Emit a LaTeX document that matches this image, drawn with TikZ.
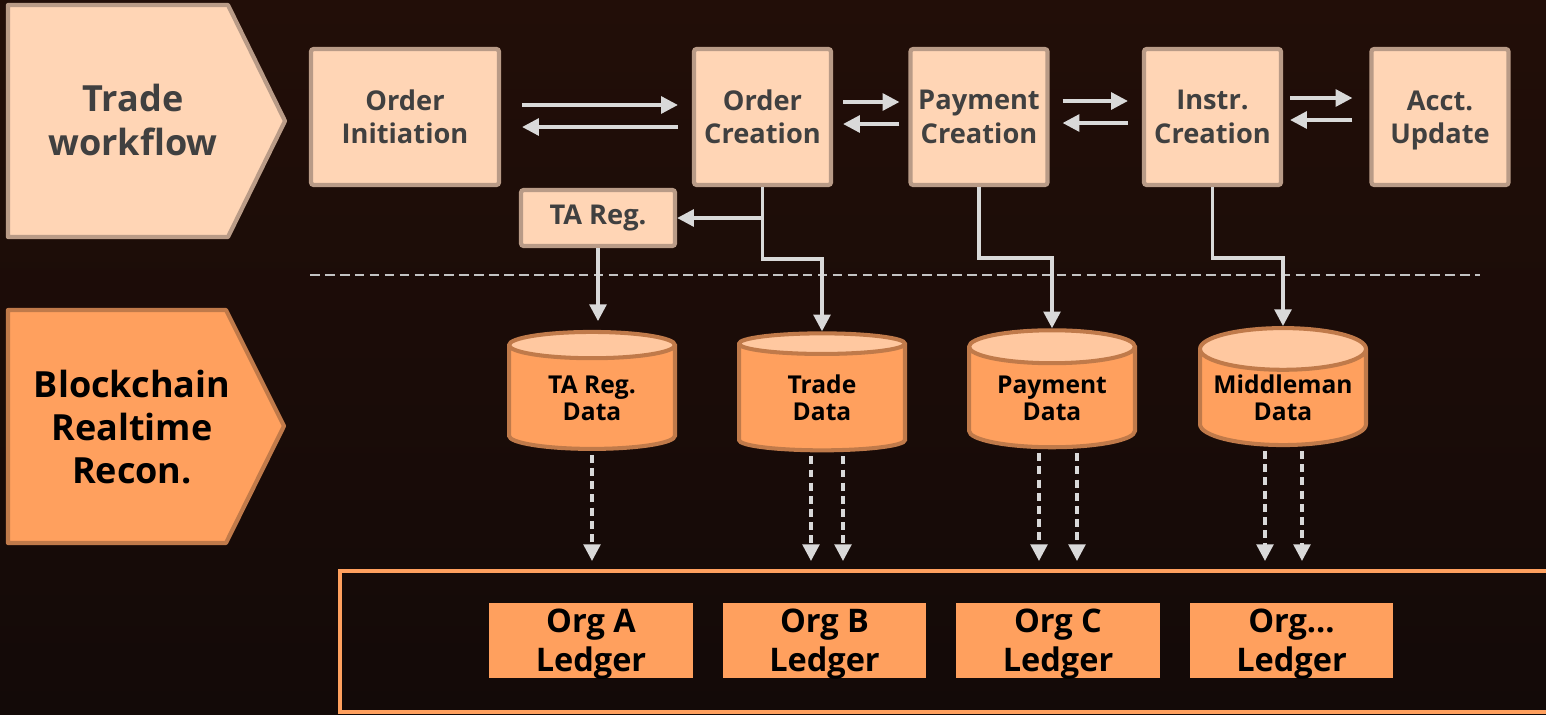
\documentclass[tikz,border=0pt]{standalone}
\usepackage{fontspec}
\setmainfont{Open Sans}
\usetikzlibrary{shapes.geometric,arrows.meta,calc}

\definecolor{bgtop}{RGB}{34,14,8}
\definecolor{bgbot}{RGB}{19,10,8}
\definecolor{peach}{RGB}{255,213,181}
\definecolor{peachline}{RGB}{185,155,135}
\definecolor{darktext}{RGB}{64,64,64}
\definecolor{orng}{RGB}{255,160,94}
\definecolor{orngline}{RGB}{192,122,74}
\definecolor{orngtop}{RGB}{255,200,160}
\definecolor{arrowgray}{RGB}{217,217,217}

\newcommand{\nodepth}[1]{\raisebox{0pt}[\height][0pt]{#1}}

\tikzset{
  lanepeach/.style={draw=peachline, fill=peach, line width=2.4pt, line join=round},
  laneorange/.style={draw=orngline, fill=orng, line width=2.4pt, line join=round},
  lanetext/.style={align=center, font=\bfseries\fontsize{20.5}{24.5}\selectfont},
  stepbox/.style={draw=peachline, fill=peach, line width=2.4pt, rounded corners=1.5pt,
    text=darktext, align=center, inner sep=0pt, minimum width=2.74cm, minimum height=2.72cm,
    font=\bfseries\fontsize{15.5}{19}\selectfont},
  store/.style={cylinder, shape border rotate=90, aspect=0.3, draw=orngline, line width=2.3pt,
    cylinder uses custom fill, cylinder body fill=orng, cylinder end fill=orngtop,
    minimum width=3.32cm, minimum height=2.34cm, inner sep=0pt, align=center,
    font=\bfseries\fontsize{14}{15.5}\selectfont},
  ledger/.style={fill=orng, minimum width=4.08cm, minimum height=1.5cm, inner sep=0pt,
    align=center, font=\bfseries\fontsize{18.5}{22}\selectfont},
  frame/.style={draw=orng, line width=2.3pt, minimum width=24.4cm, minimum height=2.82cm},
  arr/.style={draw=arrowgray, line width=2pt, -{Triangle[length=9.5pt,width=9.5pt]}},
  dasharr/.style={arr, dash pattern=on 4.5pt off 3pt},
}

\begin{document}
\begin{tikzpicture}[x=0.02cm,y=-0.02cm]
  % background
  \shade[top color=bgtop,bottom color=bgbot] (0,0) rectangle (1546,714);
  \useasboundingbox (0,0) rectangle (1546,714);

  % row labels
  \draw[lanepeach] (8,5) -- (228,5) -- (285,121) -- (228,237) -- (8,237) -- cycle;
  \node[lanetext, text=darktext] (trade) at (133,120) {Trade\\workflow};
  \draw[laneorange] (8,310) -- (226,310) -- (284,426) -- (226,543) -- (8,543) -- cycle;
  \node[lanetext] (recon) at (132,427) {Blockchain\\Realtime\\Recon.};

  % workflow steps
  \node[stepbox, minimum width=3.76cm] (init) at (405,117) {Order\\Initiation};
  \node[stepbox] (order) at (762.5,117) {Order\\Creation};
  \node[stepbox] (pay) at (979,117) {Payment\\Creation};
  \node[stepbox] (instr) at (1212.5,117) {Instr.\\Creation};
  \node[stepbox] (acct) at (1440,117) {Acct.\\\nodepth{Update}};
  \node[stepbox, minimum width=3.08cm, minimum height=1.12cm] (tareg) at (598,218) {TA Reg.};

  \draw[draw=arrowgray!90!black, line width=1.1pt, dash pattern=on 5.5pt off 3pt] (310,275) -- (1480,275);

  % data stores
  \node[store] (dbta) at (592,398) {TA Reg.\\Data};
  \node[store] (dbtr) at (822,398) {Trade\\Data};
  \node[store] (dbpay) at (1052,398) {Payment\\Data};
  \node[store] (dbmid) at (1283,398) {Middleman\\Data};

  % ledgers
  \node[frame] (ledgers) at (950,641.5) {};
  \node[ledger] (orga) at (591,640.5) {Org A\\\nodepth{Ledger}};
  \node[ledger] (orgb) at (824.5,640.5) {Org B\\\nodepth{Ledger}};
  \node[ledger] (orgc) at (1058,640.5) {Org C\\\nodepth{Ledger}};
  \node[ledger] (orgn) at (1291.5,640.5) {Org...\\\nodepth{Ledger}};

  % workflow arrows
  \draw[arr] ($(init.east)+(21,-12)$) -- ($(order.west)+(-14,-12)$);
  \draw[arr] ($(order.west)+(-14,10)$) -- ($(init.east)+(21,10)$);
  \draw[arr] ($(order.east)+(10,-15)$) -- ($(pay.west)+(-9,-15)$);
  \draw[arr] ($(pay.west)+(-9,7)$) -- ($(order.east)+(10,7)$);
  \draw[arr] ($(pay.east)+(13,-16)$) -- ($(instr.west)+(-14,-16)$);
  \draw[arr] ($(instr.west)+(-14,6)$) -- ($(pay.east)+(13,6)$);
  \draw[arr] ($(instr.east)+(7,-19)$) -- ($(acct.west)+(-17,-19)$);
  \draw[arr] ($(acct.west)+(-17,3)$) -- ($(instr.east)+(7,3)$);

  % down to the stores
  \draw[arr] (order.south) -- (order.south |- tareg.east) -- (tareg.east);
  \draw[arr] (order.south) -- ++(0,72) -| (dbtr.north);
  \draw[arr, shorten >=5pt] (tareg.south) -- (tareg.south |- dbta.north);
  \draw[arr] (pay.south) -- ++(0,71) -| (dbpay.north);
  \draw[arr] (instr.south) -- ++(0,71) -| (dbmid.north);

  % stores to ledgers
  \draw[dasharr] ($(dbta.south)+(0,4)$) -- ($(dbta.south |- ledgers.north)+(0,-8)$);
  \draw[dasharr] ($(dbtr.south)+(-11,4)$) -- ($(dbtr.south |- ledgers.north)+(-11,-8)$);
  \draw[dasharr] ($(dbtr.south)+(21,4)$) -- ($(dbtr.south |- ledgers.north)+(21,-8)$);
  \draw[dasharr] ($(dbpay.south)+(-13,4)$) -- ($(dbpay.south |- ledgers.north)+(-13,-8)$);
  \draw[dasharr] ($(dbpay.south)+(25,4)$) -- ($(dbpay.south |- ledgers.north)+(25,-8)$);
  \draw[dasharr] ($(dbmid.south)+(-18,4)$) -- ($(dbmid.south |- ledgers.north)+(-18,-8)$);
  \draw[dasharr] ($(dbmid.south)+(19,4)$) -- ($(dbmid.south |- ledgers.north)+(19,-8)$);
\end{tikzpicture}
\end{document}
